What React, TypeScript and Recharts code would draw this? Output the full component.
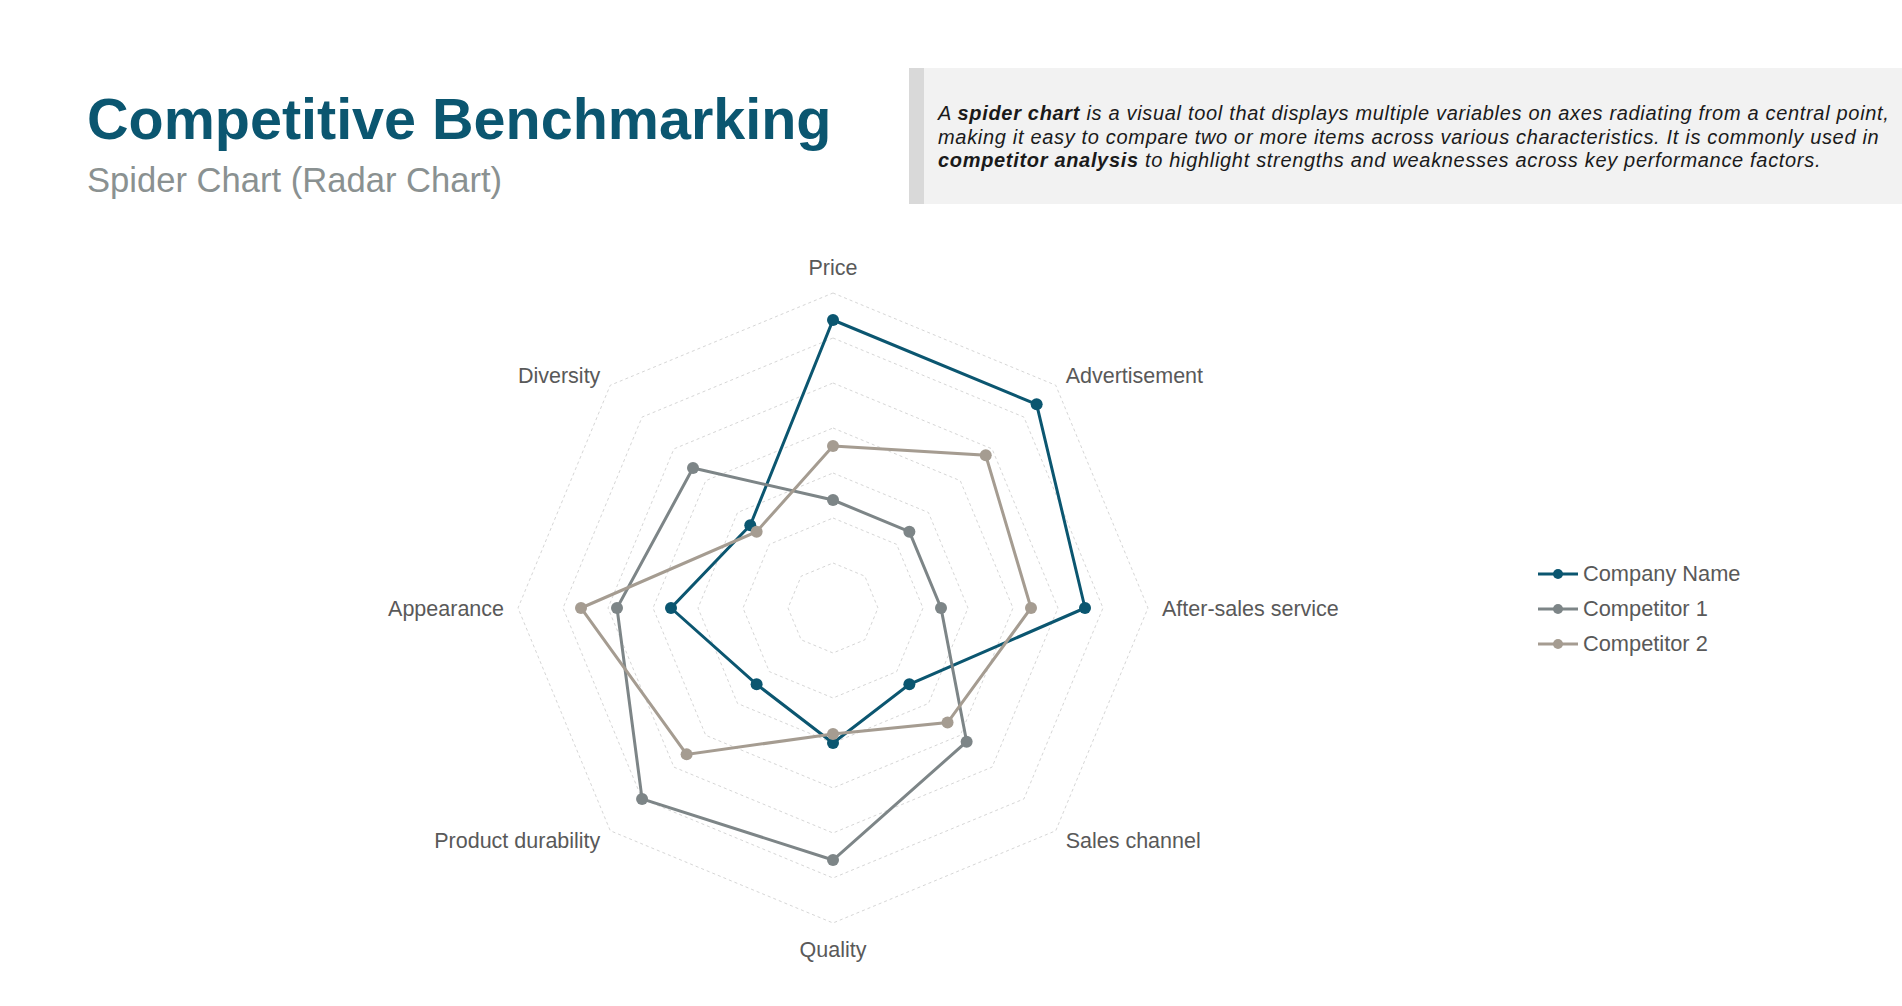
import React from "react";
import { RadarChart, Radar, PolarGrid, PolarAngleAxis, PolarRadiusAxis, Legend } from "recharts";

// axes, clockwise from the top
const categories = [
  "Price",
  "Advertisement",
  "After-sales service",
  "Sales channel",
  "Quality",
  "Product durability",
  "Appearance",
  "Diversity",
];

const companyName = [32, 32, 28, 12, 15, 12, 18, 13];
const competitor1 = [12, 12, 12, 21, 28, 30, 24, 22];
const competitor2 = [18, 24, 22, 18, 14, 23, 28, 12];

const seriesNames = ["Company Name", "Competitor 1", "Competitor 2"];
const seriesColors = ["#0b5670", "#7d8587", "#a59c91"];

const radiusDomain = [0, 35];
const radiusTickCount = 8;

const data = categories.map((subject, i) => ({
  subject,
  company: companyName[i],
  comp1: competitor1[i],
  comp2: competitor2[i],
}));
const seriesKeys = ["company", "comp1", "comp2"];

const FONT = '"Liberation Sans", Arial, sans-serif';
const CX = 833;
const CY = 608;
const OUTER = 315;

const renderAngleTick = (props: any) => {
  const { payload } = props;
  const rad = (-payload.coordinate * Math.PI) / 180;
  const cos = Math.cos(rad);
  const sin = Math.sin(rad);
  const vertical = Math.abs(cos) < 0.1;
  const r = OUTER + (vertical ? 26 : 14);
  const anchor = vertical ? "middle" : cos > 0 ? "start" : "end";
  return (
    <text
      x={CX + cos * r}
      y={CY + sin * r}
      dy="0.35em"
      textAnchor={anchor}
      fill="#595959"
      fontSize={21.5}
      fontFamily={FONT}
    >
      {payload.value}
    </text>
  );
};

const renderLegend = () => (
  <div style={{ fontFamily: FONT, fontSize: 21.8, color: "#595959" }}>
    {seriesNames.map((name, i) => (
      <div key={name} style={{ display: "flex", alignItems: "center", height: 35 }}>
        <svg width={40} height={12} style={{ marginRight: 5 }}>
          <line x1={0} y1={6} x2={40} y2={6} stroke={seriesColors[i]} strokeWidth={3} />
          <circle cx={20} cy={6} r={5} fill={seriesColors[i]} />
        </svg>
        <span>{name}</span>
      </div>
    ))}
  </div>
);

const App: React.FC = () => {
  return (
    <div
      style={{
        position: "absolute",
        left: 0,
        top: 0,
        width: 1902,
        height: 1006,
        background: "#fff",
        overflow: "hidden",
        fontFamily: FONT,
      }}
    >
      <div
        style={{
          position: "absolute",
          left: 87,
          top: 91,
          fontSize: 57.5,
          lineHeight: "57px",
          fontWeight: 700,
          color: "#0b5670",
          whiteSpace: "nowrap",
        }}
      >
        Competitive Benchmarking
      </div>
      <div
        style={{
          position: "absolute",
          left: 87,
          top: 163,
          fontSize: 34.6,
          lineHeight: "34.4px",
          color: "#8a9191",
          whiteSpace: "nowrap",
        }}
      >
        Spider Chart (Radar Chart)
      </div>

      <div
        style={{
          position: "absolute",
          left: 909,
          top: 68,
          width: 993,
          height: 136,
          boxSizing: "border-box",
          background: "#f2f2f2",
          borderLeft: "15px solid #d9d9d9",
          paddingLeft: 14,
          paddingTop: 34,
          fontSize: 20,
          letterSpacing: 0.68,
          lineHeight: "23.5px",
          fontStyle: "italic",
          color: "#1a1a1a",
          whiteSpace: "nowrap",
        }}
      >
        A <b>spider chart</b> is a visual tool that displays multiple variables on axes radiating from a central point,
        <br />
        making it easy to compare two or more items across various characteristics. It is commonly used in
        <br />
        <b>competitor analysis</b> to highlight strengths and weaknesses across key performance factors.
      </div>

      <div style={{ position: "absolute", left: 0, top: 0 }}>
        <RadarChart
          width={1902}
          height={1006}
          data={data}
          cx={CX}
          cy={CY}
          outerRadius={OUTER}
          margin={{ top: 0, right: 0, bottom: 0, left: 0 }}
        >
          <PolarGrid gridType="polygon" radialLines={false} stroke="#d6d6d6" strokeDasharray="3 3" />
          <PolarAngleAxis dataKey="subject" tick={renderAngleTick} tickLine={false} axisLine={false} />
          <PolarRadiusAxis
            domain={radiusDomain}
            tickCount={radiusTickCount}
            tick={false}
            axisLine={false}
          />
          {seriesKeys.map((key, i) => (
            <Radar
              key={key}
              name={seriesNames[i]}
              dataKey={key}
              stroke={seriesColors[i]}
              strokeWidth={3}
              fill="none"
              fillOpacity={0}
              dot={{ r: 6, fill: seriesColors[i], stroke: "none", fillOpacity: 1 }}
              isAnimationActive={false}
            />
          ))}
          <Legend
            layout="vertical"
            align="right"
            verticalAlign="middle"
            content={renderLegend}
            wrapperStyle={{ left: 1538, top: 556, width: 260, right: "auto", bottom: "auto" }}
          />
        </RadarChart>
      </div>
    </div>
  );
};

export default App;
